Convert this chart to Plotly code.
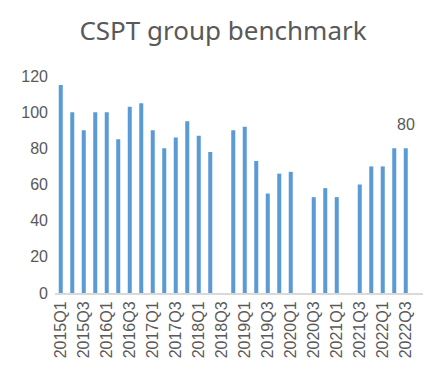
import plotly.graph_objects as go

quarters = [f"{y}Q{q}" for y in range(2015, 2023) for q in range(1, 5)]
values = [115, 100, 90, 100,
          100, 85, 103, 105,
          90, 80, 86, 95,
          87, 78, None, 90,
          92, 73, 55, 66,
          67, None, 53, 58,
          53, None, 60, 70,
          70, 80, 80, None]
tick_labels = quarters[::2]
label_index = 30  # 2022Q3

bar_color = "#5B9BD5"
text_color = "#595959"

W, H = 438, 381  # page body has an 8px margin

fig = go.Figure()
fig.add_trace(go.Bar(x=quarters, y=values, marker_color=bar_color,
                     marker_line_width=0))

fig.add_annotation(x=quarters[label_index], y=values[label_index],
                   text=str(values[label_index]), showarrow=False,
                   yanchor="bottom", yshift=13,
                   font=dict(family="Liberation Sans", size=16, color=text_color))

fig.update_layout(
    width=W, height=H,
    margin=dict(l=47, r=23, t=68, b=96, autoexpand=False),
    plot_bgcolor="white", paper_bgcolor="white",
    bargap=0.65,
    showlegend=False,
    title=dict(text="CSPT group benchmark", x=(223 - 8) / W, xanchor="center",
               xref="container", yref="container",
               y=1 - 14 / H, yanchor="top",
               font=dict(family="Noto Sans", size=26, color=text_color)),
    font=dict(family="Liberation Sans", size=16, color=text_color),
)
fig.update_xaxes(type="category", categoryorder="array", categoryarray=quarters,
                 tickmode="array", tickvals=tick_labels, ticktext=tick_labels,
                 tickangle=-90, showgrid=False, showline=True, automargin=False,
                 linecolor="#D9D9D9", linewidth=2, ticks="",
                 tickfont=dict(size=16, color=text_color))
fig.update_yaxes(range=[0, 120], dtick=20, showgrid=False, zeroline=False,
                 showline=False, ticks="", ticklabelstandoff=6, automargin=False,
                 tickfont=dict(size=16, color=text_color))

fig.write_html("out.html")
